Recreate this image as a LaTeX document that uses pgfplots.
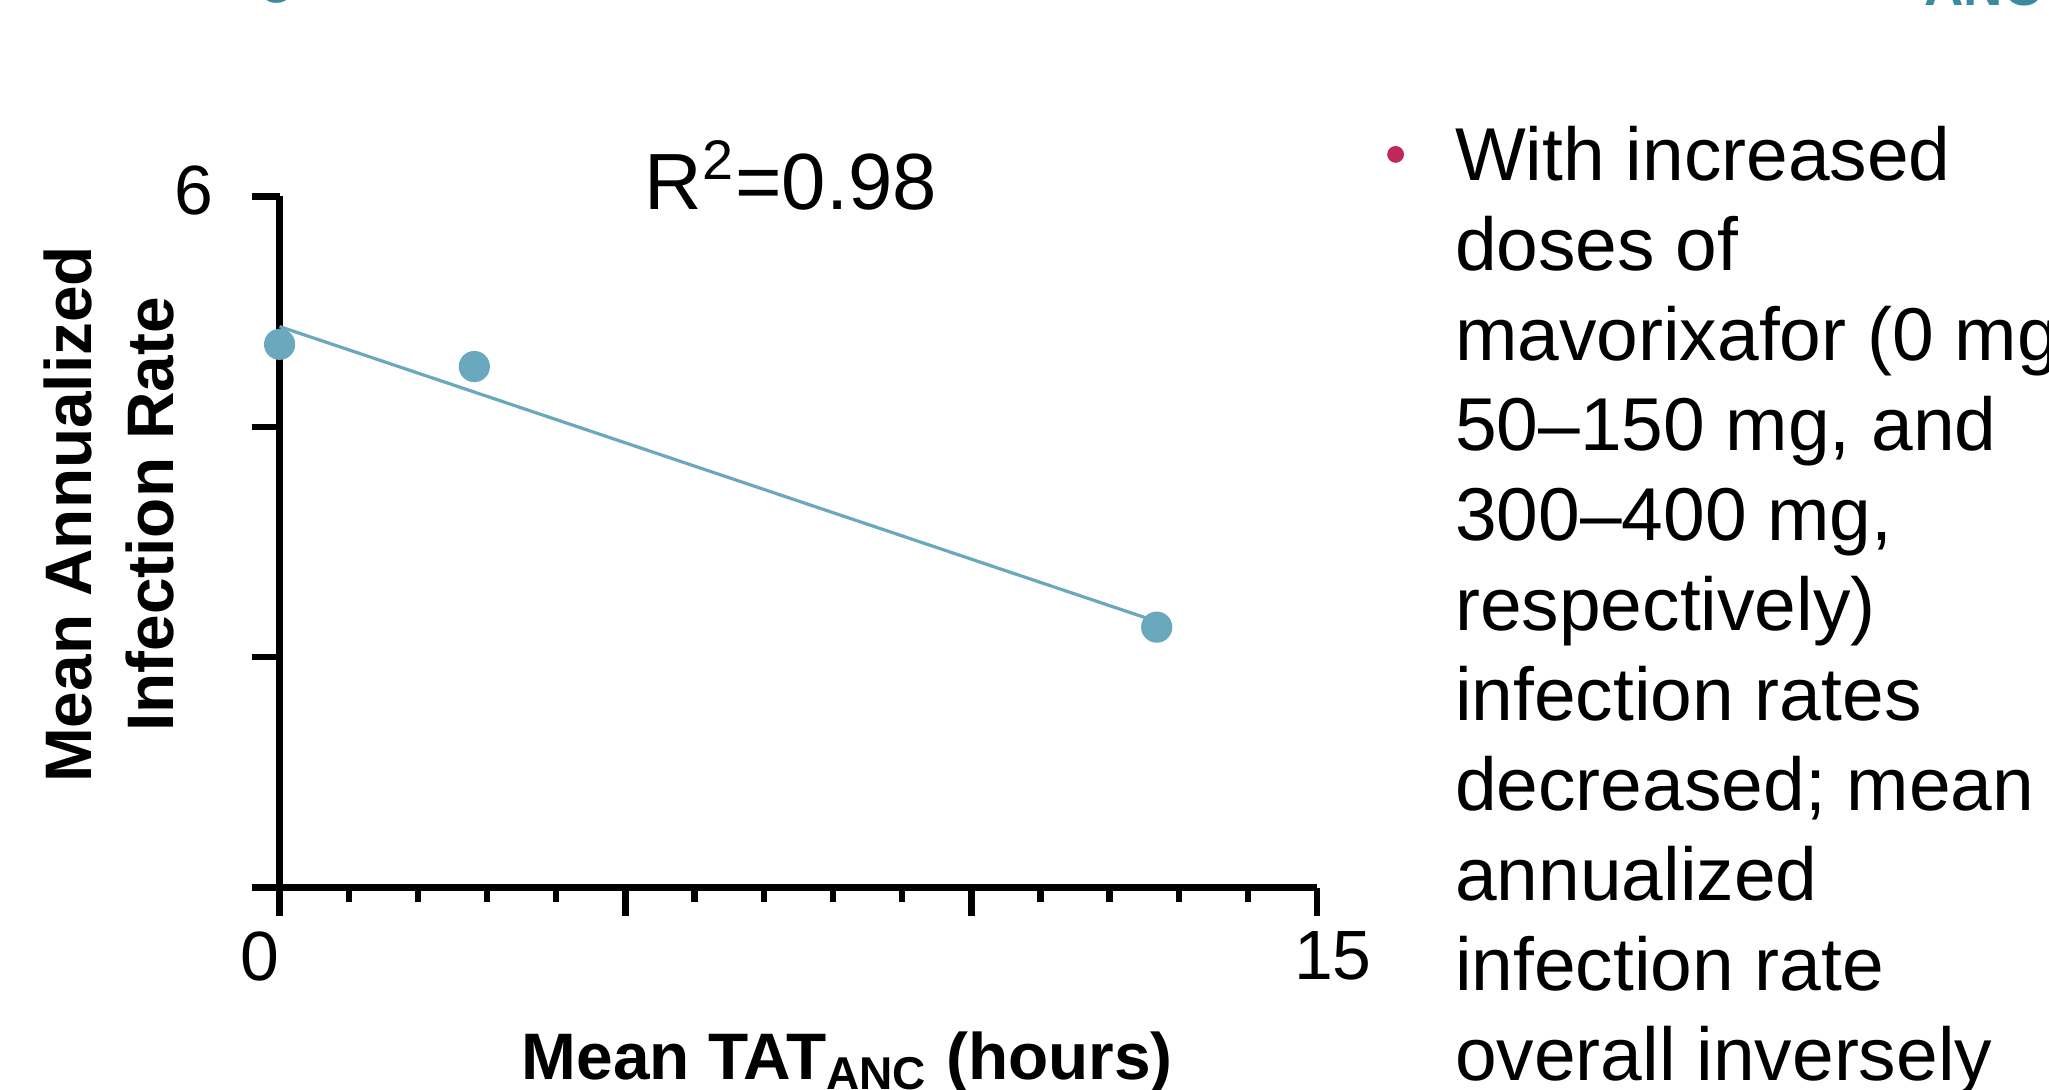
\documentclass[border=0pt]{standalone}
\usepackage{pgfplots}
\pgfplotsset{compat=1.18}
\usepackage{fontspec}
\setmainfont{Liberation Sans}
\definecolor{dot}{RGB}{106,168,190}
\definecolor{bul}{RGB}{192,40,90}
\definecolor{ttl}{RGB}{58,138,160}
\begin{document}
\begin{tikzpicture}
\path[use as bounding box] (0,0) rectangle (512.25bp,272.5bp);
\clip (0,0) rectangle (512.25bp,272.5bp);
\begin{axis}[
  at={(69.9bp,50.6bp)}, anchor=south west,
  scale only axis, width=259.4bp, height=172.8bp,
  xmin=0, xmax=15, ymin=0, ymax=6,
  clip=false,
  axis lines=left,
  axis line style={-, line width=1.6bp, black},
  tick align=outside,
  major tick length=7bp, minor tick length=3.6bp,
  every tick/.style={line width=1.6bp, black},
  xtick={0,5,10,15}, xticklabels={{0\kern10bp},,,{\kern7.8bp 15}},
  minor xtick={1,2,3,4,6,7,8,9,11,12,13,14},
  ytick={0,2,4,6}, yticklabels={,,,6},
  tick label style={font=\fontsize{17.5}{20}\selectfont},
  xticklabel style={yshift=-0.5bp},
  yticklabel style={xshift=-6bp, yshift=1.5bp},
  /pgf/number format/assume math mode=true,
  xlabel={Mean TAT\textsubscript{ANC} (hours)},
  xlabel style={at={(axis description cs:0.547,0)}, anchor=base, yshift=-48bp,
    font=\fontsize{16.5}{20}\selectfont\bfseries},
  ylabel={Mean Annualized\\Infection Rate},
  ylabel style={at={(axis description cs:-0.164,0.54)}, anchor=center, align=center,
    font=\fontsize{16.5}{20.6}\selectfont\bfseries},
]
\addplot[dot, line width=0.8bp] coordinates {(0,4.87) (12.68,2.31)};
\addplot[only marks, mark=*, mark size=3.7bp, mark options={fill=dot, draw=dot}]
  coordinates {(0,4.716) (2.815,4.523) (12.68,2.261)};
\node[anchor=base, font=\fontsize{20}{24}\selectfont] at (axis cs:7.39,5.886) {R\textsuperscript{2}=0.98};
\end{axis}
\fill[bul] (348.9bp,233.9bp) circle (2.1bp);
\foreach \t [count=\i from 0] in {{With increased},{doses of},{mavorixafor (0 mg,},{50–150 mg, and},{300–400 mg,},{respectively)},{infection rates},{decreased; mean},{annualized},{infection rate},{overall inversely}}{
  \node[anchor=base west, inner sep=0, font=\fontsize{18.8}{22.5}\selectfont] at (363.6bp,227.4bp-\i*22.5bp) {\t};
}
\node[anchor=base west, inner sep=0, text=ttl, font=\fontsize{13.7}{16}\selectfont\bfseries] at (480.9bp,271bp) {ANC};
\node[anchor=base, inner sep=0, text=ttl, font=\fontsize{14}{16}\selectfont\bfseries] at (69.3bp,274.6bp) {g};
\end{tikzpicture}
\end{document}
